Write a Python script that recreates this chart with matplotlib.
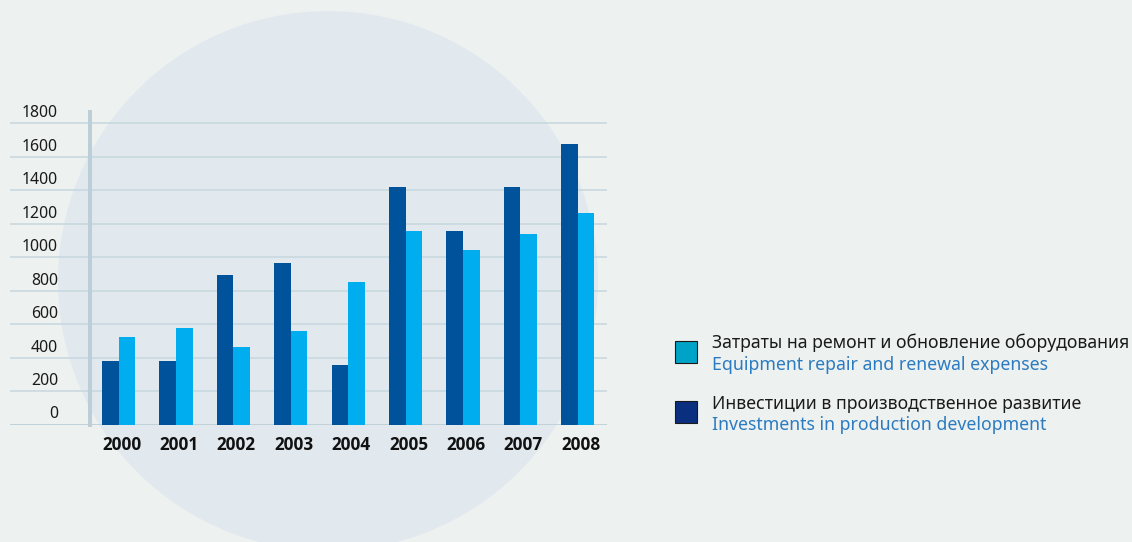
import matplotlib
matplotlib.use('Agg')
import matplotlib.pyplot as plt
from matplotlib.patches import Circle, Rectangle
import numpy as np

# data
years = ['2000', '2001', '2002', '2003', '2004', '2005', '2006', '2007', '2008']
investments = [378, 378, 896, 967, 354, 1420, 1158, 1420, 1676]
repair = [521, 575, 461, 556, 854, 1158, 1045, 1140, 1265]
yticks = [0, 200, 400, 600, 800, 1000, 1200, 1400, 1600, 1800]

legend_ru = ['Затраты на ремонт и обновление оборудования',
             'Инвестиции в производственное развитие']
legend_en = ['Equipment repair and renewal expenses',
             'Investments in production development']

# colours
BG = '#edf1f0'
CIRCLE = '#e1e9ef'
DARK = '#00529b'
LIGHT = '#00aeef'
GRID = '#c6d6de'
AXIS = '#bccfd8'
LEG_LIGHT = '#00a3c8'
LEG_DARK = '#0b2f7f'
EN_BLUE = '#2c7bc0'

plt.rcParams['font.family'] = ['Noto Sans', 'DejaVu Sans']

W, H, DPI = 1132, 542, 100
fig = plt.figure(figsize=(W / DPI, H / DPI), dpi=DPI, facecolor=BG)

# big pale circle behind the chart (pixel coords from top-left)
circ = Circle((328 / DPI, (H - 281) / DPI), 270 / DPI, transform=fig.dpi_scale_trans,
              facecolor=CIRCLE, edgecolor='none', zorder=-10)
fig.patches.append(circ)

# axes placed so that bars/gridlines land at the same pixels
px_left, px_right = 10, 607
px_zero, px_top = 424.5, 106.6
ax = fig.add_axes([px_left / W, (H - px_zero) / H, (px_right - px_left) / W, (px_zero - px_top) / H])
ax.set_facecolor('none')
ax.set_zorder(1)

x = np.arange(len(years))
w = 0.2875
ax.set_xlim((px_left - 118.6) / 57.4, (px_right - 118.6) / 57.4)
ax.set_ylim(0, 1900)

for t in yticks[1:]:
    ax.axhline(t, color=GRID, lw=1.1, zorder=1)
ax.axhline(0, color=AXIS, lw=2.0, zorder=1)
ax.plot([-0.49, -0.49], [-12, 1880], color=AXIS, lw=2.9, solid_capstyle='butt', zorder=2, clip_on=False)

ax.bar(x - w / 2, investments, w, color=DARK, zorder=3)
ax.bar(x + w / 2, repair, w, color=LIGHT, zorder=3)

for s in ax.spines.values():
    s.set_visible(False)
ax.set_xticks([])
ax.set_yticks([])

# y labels sit a little above their gridlines
for t in yticks:
    ax.annotate(str(t), xy=(0, t), xycoords=('axes fraction', 'data'),
                xytext=(48, 6), textcoords='offset pixels',
                ha='right', va='baseline', fontsize=11.4, color='#1a1a1a')

for i, yr in enumerate(years):
    ax.annotate(yr, xy=(x[i] - w, 0), xycoords='data', xytext=(0, -26), textcoords='offset pixels',
                ha='left', va='baseline', fontsize=12.3, fontweight='bold', color='#111111',
                family=['Open Sans', 'DejaVu Sans'])

# legend drawn by hand: two-language labels
def fy(py):
    return (H - py) / H

for col, sq_top, ru_base, en_base, ru, en in [
        (LEG_LIGHT, 341, 348, 370, legend_ru[0], legend_en[0]),
        (LEG_DARK, 401, 409, 430, legend_ru[1], legend_en[1])]:
    fig.patches.append(Rectangle((675 / W, fy(sq_top + 22)), 22 / W, 22 / H, transform=fig.transFigure,
                                 facecolor=col, edgecolor='#1a1a1a', lw=0.8))
    fig.text(712 / W, fy(ru_base), ru, fontsize=12.75, color='#1a1a1a', va='baseline')
    fig.text(712 / W, fy(en_base), en, fontsize=12.75, color=EN_BLUE, va='baseline')

fig.savefig('out.png', dpi=DPI, facecolor=BG)
